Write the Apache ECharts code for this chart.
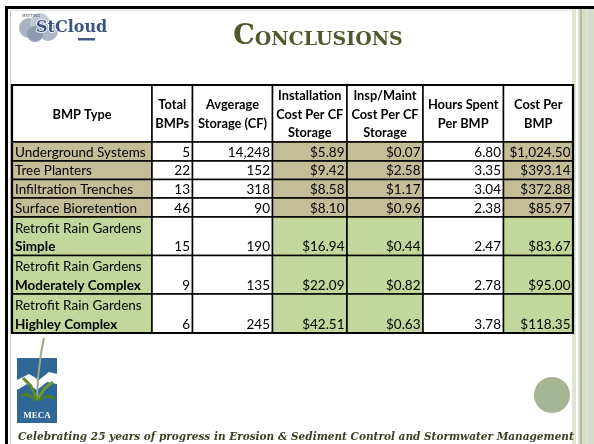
<!DOCTYPE html>
<html>
<head>
<meta charset="utf-8">
<script src="https://cdn.jsdelivr.net/npm/echarts@6/dist/echarts.min.js"></script>
<style>
  html, body { margin: 0; padding: 0; background: #fff; }
  #main { width: 594px; height: 444px; }
</style>
</head>
<body>
<div id="main"></div>
<script>
// table data
var headers = ['BMP Type', 'Total\nBMPs', 'Avgerage\nStorage (CF)', 'Installation\nCost Per CF\nStorage',
  'Insp/Maint\nCost Per CF\nStorage', 'Hours Spent\nPer BMP', 'Cost Per\nBMP'];
var bmpTypes = ['Underground Systems', 'Tree Planters', 'Infiltration Trenches', 'Surface Bioretention',
  'Retrofit Rain Gardens', 'Retrofit Rain Gardens', 'Retrofit Rain Gardens'];
var bmpSubtypes = ['', '', '', '', 'Simple', 'Moderately Complex', 'Highley Complex'];
var totalBmps = [5, 22, 13, 46, 15, 9, 6];
var avgStorage = [14248, 152, 318, 90, 190, 135, 245];
var installCost = [5.89, 9.42, 8.58, 8.10, 16.94, 22.09, 42.51];
var inspCost = [0.07, 2.58, 1.17, 0.96, 0.44, 0.82, 0.63];
var hoursPerBmp = [6.80, 3.35, 3.04, 2.38, 2.47, 2.78, 3.78];
var costPerBmp = [1024.50, 393.14, 372.88, 85.97, 83.67, 95.00, 118.35];

// layout
var colEdges = [12, 152, 192.5, 272.5, 347, 423, 503.5, 573];
var rowEdges = [85, 142, 161, 179.5, 198, 217, 255.5, 294, 333];
var shadedCols = [0, 3, 4, 6];
var TAN = '#c4bd97', GREEN = '#c3d69b';
var FONT = 'Lato';
var BODY_SIZE = 13.5, HEAD_SIZE = 12.8;

function money(v) {
  return '$' + v.toLocaleString('en-US', {minimumFractionDigits: 2, maximumFractionDigits: 2});
}

function cellText(c, i) {
  if (c === 1) return String(totalBmps[i]);
  if (c === 2) return avgStorage[i].toLocaleString('en-US');
  if (c === 3) return money(installCost[i]);
  if (c === 4) return money(inspCost[i]);
  if (c === 5) return hoursPerBmp[i].toFixed(2);
  if (c === 6) return money(costPerBmp[i]);
  return '';
}

var cells = [];
for (var r = 0; r <= bmpTypes.length; r++) {
  for (var c = 0; c < headers.length; c++) cells.push([c, r]);
}

function renderCell(params, api) {
  var c = api.value(0), r = api.value(1);
  var x0 = colEdges[c], x1 = colEdges[c + 1], y0 = rowEdges[r], y1 = rowEdges[r + 1];
  var fill = '#fff';
  if (r > 0 && shadedCols.indexOf(c) >= 0) fill = r <= 4 ? TAN : GREEN;
  var children = [{
    type: 'rect',
    shape: {x: x0, y: y0, width: x1 - x0, height: y1 - y0},
    style: {fill: fill, stroke: '#000', lineWidth: 1.5}
  }];
  if (r === 0) {
    children.push({
      type: 'text',
      style: {text: headers[c], x: (x0 + x1) / 2, y: (y0 + y1) / 2 + 1, align: 'center', verticalAlign: 'middle',
        fontFamily: FONT, fontWeight: 'bold', fontSize: HEAD_SIZE, lineHeight: 18.5, fill: '#000'}
    });
  } else {
    var i = r - 1;
    if (c === 0) {
      if (bmpSubtypes[i]) {
        children.push({type: 'text', style: {text: bmpTypes[i], x: x0 + 3, y: y1 - 27, align: 'left',
          verticalAlign: 'middle', fontFamily: FONT, fontSize: BODY_SIZE, fill: '#000'}});
        children.push({type: 'text', style: {text: bmpSubtypes[i], x: x0 + 3, y: y1 - 8.5, align: 'left',
          verticalAlign: 'middle', fontFamily: FONT, fontWeight: 'bold', fontSize: BODY_SIZE, fill: '#000'}});
      } else {
        children.push({type: 'text', style: {text: bmpTypes[i], x: x0 + 3, y: y1 - 8.5, align: 'left',
          verticalAlign: 'middle', fontFamily: FONT, fontSize: BODY_SIZE, fill: '#000'}});
      }
    } else {
      children.push({type: 'text', style: {text: cellText(c, i), x: x1 - 2.5, y: y1 - 8.5, align: 'right',
        verticalAlign: 'middle', fontFamily: FONT, fontSize: BODY_SIZE, fill: '#000'}});
    }
  }
  return {type: 'group', children: children};
}

var chart = echarts.init(document.getElementById('main'));

var option = {
  backgroundColor: '#fff',
  animation: false,
  series: [{
    type: 'custom',
    coordinateSystem: 'none',
    data: cells,
    renderItem: renderCell,
    z: 2
  }],
  graphic: [
    // slide frame
    {type: 'rect', shape: {x: 5, y: 6, width: 3, height: 438}, style: {fill: '#000'}, z: 1},
    {type: 'rect', shape: {x: 5, y: 6, width: 589, height: 3}, style: {fill: '#000'}, z: 1},
    {type: 'line', shape: {x1: 10.5, y1: 10, x2: 10.5, y2: 444}, style: {stroke: '#c8c8c8', lineWidth: 1}, z: 1},
    {type: 'line', shape: {x1: 10, y1: 10.5, x2: 572, y2: 10.5}, style: {stroke: '#e0e0e0', lineWidth: 1}, z: 1},
    // right textured strip
    {type: 'rect', shape: {x: 572, y: 9, width: 4, height: 435}, style: {fill: '#dfe5d4'}, z: 1},
    {type: 'rect', shape: {x: 578, y: 9, width: 16, height: 435}, style: {fill: '#d5dcc8'}, z: 1},
    {type: 'line', shape: {x1: 581, y1: 9, x2: 581, y2: 444}, style: {stroke: '#a7b494', lineWidth: 1.5}, z: 1},
    {type: 'line', shape: {x1: 587, y1: 9, x2: 587, y2: 444}, style: {stroke: '#e4e9dc', lineWidth: 1}, z: 1},
    // outer table border
    {type: 'rect', shape: {x: colEdges[0], y: rowEdges[0], width: colEdges[7] - colEdges[0], height: rowEdges[8] - rowEdges[0]},
      style: {fill: 'none', stroke: '#000', lineWidth: 2.2}, z: 10},
    // title
    {type: 'text', x: 318, y: 50, z: 3,
      style: {text: '{a|C}{b|ONCLUSIONS}', align: 'center', verticalAlign: 'bottom',
        rich: {
          a: {fontFamily: 'DejaVu Serif', fontWeight: 'bold', fontSize: 27, lineHeight: 27, fill: '#4e5a2c', verticalAlign: 'bottom'},
          b: {fontFamily: 'DejaVu Serif', fontWeight: 'bold', fontSize: 19, lineHeight: 21, fill: '#4e5a2c', verticalAlign: 'bottom'}
        }}},
    // St. Cloud logo
    {type: 'group', x: 18, y: 13, z: 3, children: [
      {type: 'circle', shape: {cx: 11, cy: 15, r: 10}, style: {fill: '#aab3c2'}},
      {type: 'circle', shape: {cx: 22, cy: 10, r: 10}, style: {fill: '#c3cad6'}},
      {type: 'circle', shape: {cx: 30, cy: 18, r: 10}, style: {fill: '#aeb7c5'}},
      {type: 'circle', shape: {cx: 17, cy: 21, r: 8}, style: {fill: '#8f9bb0'}},
      {type: 'text', style: {text: 'StCloud', x: 18, y: 15, verticalAlign: 'middle', fontFamily: 'DejaVu Serif',
        fontWeight: 'bold', fontSize: 16, fill: '#3a5582', stroke: '#fff', lineWidth: 1.5}},
      {type: 'rect', shape: {x: 60, y: 25, width: 17, height: 2.5}, style: {fill: '#3d5a86'}},
      {type: 'text', style: {text: 'MEETING', x: 4, y: 1, fontFamily: 'DejaVu Sans', fontSize: 4, fill: '#56627a'}}
    ]},
    // MECA logo
    {type: 'group', x: 17, y: 338, z: 3, children: [
      {type: 'rect', shape: {x: 0, y: 20, width: 40, height: 65}, style: {fill: '#2f6896'}},
      {type: 'polygon', shape: {points: [[0, 42], [12, 36], [22, 42], [32, 34], [40, 36], [40, 46], [30, 44], [20, 52], [10, 46], [0, 52]]},
        style: {fill: '#fff'}},
      {type: 'polyline', shape: {points: [[20, 62], [21, 40], [24, 15], [27, 0]]}, style: {stroke: '#9aa98a', lineWidth: 2, fill: 'none'}},
      {type: 'polyline', shape: {points: [[20, 62], [14, 48], [6, 40]]}, style: {stroke: '#5d8a2e', lineWidth: 3, fill: 'none'}},
      {type: 'polyline', shape: {points: [[20, 62], [28, 50], [36, 44]]}, style: {stroke: '#6f9a35', lineWidth: 3, fill: 'none'}},
      {type: 'polyline', shape: {points: [[19, 62], [10, 56], [4, 58]]}, style: {stroke: '#4f7e2a', lineWidth: 3, fill: 'none'}},
      {type: 'polyline', shape: {points: [[21, 62], [30, 58], [38, 60]]}, style: {stroke: '#4f7e2a', lineWidth: 3, fill: 'none'}},
      {type: 'text', style: {text: 'MECA', x: 20, y: 78, align: 'center', verticalAlign: 'middle', fontFamily: 'Liberation Serif',
        fontWeight: 'bold', fontSize: 9, fill: '#fff'}}
    ]},
    // decorative circle
    {type: 'circle', shape: {cx: 552, cy: 395, r: 18}, style: {fill: '#a6b593'}, z: 3},
    // footer
    {type: 'text', x: 18, y: 437, z: 3,
      style: {text: 'Celebrating 25 years of progress in Erosion & Sediment Control and Stormwater Management',
        verticalAlign: 'middle', fontFamily: 'DejaVu Serif', fontWeight: 'bold', fontStyle: 'italic', fontSize: 10.5, fill: '#38401f'}}
  ]
};

chart.setOption(option);
</script>
</body>
</html>
